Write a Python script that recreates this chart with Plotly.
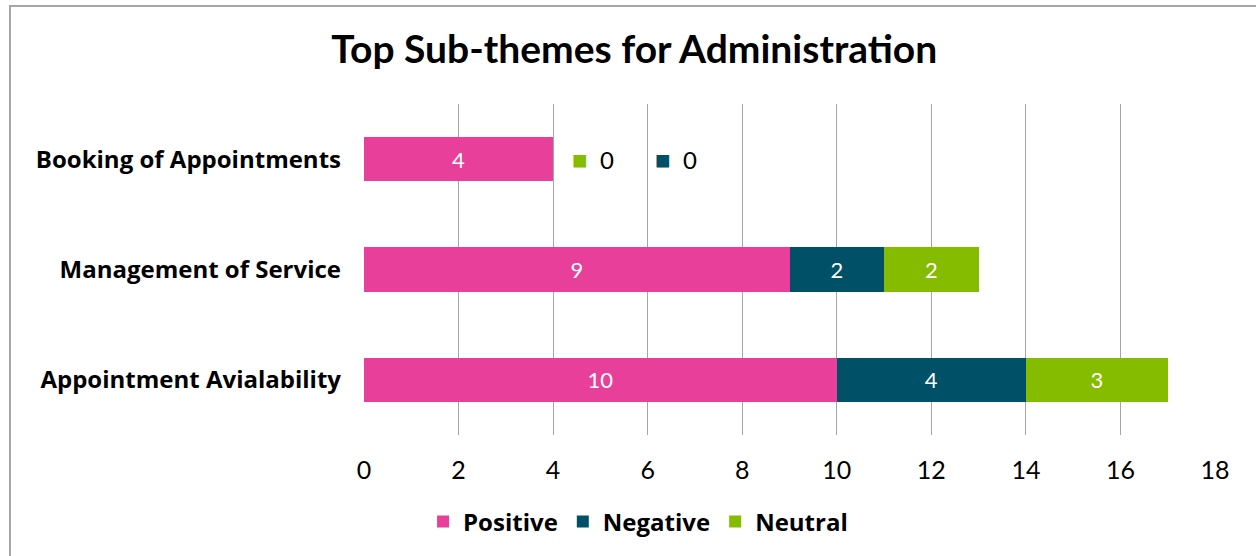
import plotly.graph_objects as go

categories = ["Booking of Appointments", "Management of Service", "Appointment Avialability"]
positive = [4, 9, 10]
negative = [0, 2, 4]
neutral = [0, 2, 3]
x_ticks = [0, 2, 4, 6, 8, 10, 12, 14, 16, 18]

PINK = "#E8409A"
NAVY = "#005068"
GREEN = "#86BC00"
FONT = "Lato"
LABEL_FONT = "Open Sans"

fig = go.Figure()
for name, vals, col in [("Positive", positive, PINK),
                        ("Negative", negative, NAVY),
                        ("Neutral", neutral, GREEN)]:
    fig.add_trace(go.Bar(
        y=categories, x=vals, name=f"<b>{name}</b>", orientation="h",
        marker=dict(color=col, line=dict(width=0)),
        text=[str(v) if v > 0 else "" for v in vals],
        textposition="inside", insidetextanchor="middle",
        textfont=dict(color="white", size=22, family=FONT),
        width=0.4,
    ))

# labels for zero-length segments, shown with a colour key beside the bar end
for i, cat in enumerate(categories):
    end = positive[i] + negative[i] + neutral[i]
    zeros = []
    if neutral[i] == 0:
        zeros.append(GREEN)
    if negative[i] == 0:
        zeros.append(NAVY)
    for k, col in enumerate(zeros):
        fig.add_annotation(
            x=end, y=cat, xref="x", yref="y", xanchor="left",
            xshift=17 + k * 83, showarrow=False,
            text=f"<span style='color:{col};font-size:26px'>■</span>  0",
            font=dict(size=24, color="black", family=FONT),
        )

L, R, T, B = 364, 41, 104, 121
W, H = 1256, 556
pw, ph = W - L - R, H - T - B

fig.add_shape(type="rect", xref="paper", yref="paper",
              x0=(10 - L) / pw, x1=1 + (R + 20) / pw,
              y0=-(B + 20) / ph, y1=1 + (T - 6) / ph,
              line=dict(color="#A6A6A6", width=2), fillcolor="rgba(0,0,0,0)",
              layer="below")

fig.update_layout(
    barmode="stack",
    width=W, height=H,
    margin=dict(l=L, r=R, t=T, b=B),
    paper_bgcolor="white", plot_bgcolor="white",
    title=dict(text="<b>Top Sub-themes for Administration</b>",
               x=0.505, xref="container", xanchor="center",
               y=1 - 49 / H, yref="container", yanchor="middle",
               font=dict(size=39, color="black", family=FONT)),
    xaxis=dict(range=[0, 18], tickvals=x_ticks, showgrid=True,
               gridcolor="#A6A6A6", gridwidth=1, zeroline=False,
               showline=False, ticks="", ticklabelstandoff=18,
               tickfont=dict(size=25, color="black", family=FONT)),
    yaxis=dict(autorange="reversed", showgrid=False, ticks="",
               ticklabelstandoff=22,
               tickvals=categories,
               ticktext=[f"<b>{c}</b>" for c in categories],
               tickfont=dict(size=24, color="black", family=LABEL_FONT),
               categoryorder="array", categoryarray=categories),
    legend=dict(orientation="h", x=0.508, xref="container", xanchor="center",
                y=1 - 522 / H, yref="container", yanchor="middle",
                font=dict(size=24, color="black", family=LABEL_FONT),
                itemwidth=30, traceorder="normal"),
    showlegend=True,
)

fig.write_html("out.html")
